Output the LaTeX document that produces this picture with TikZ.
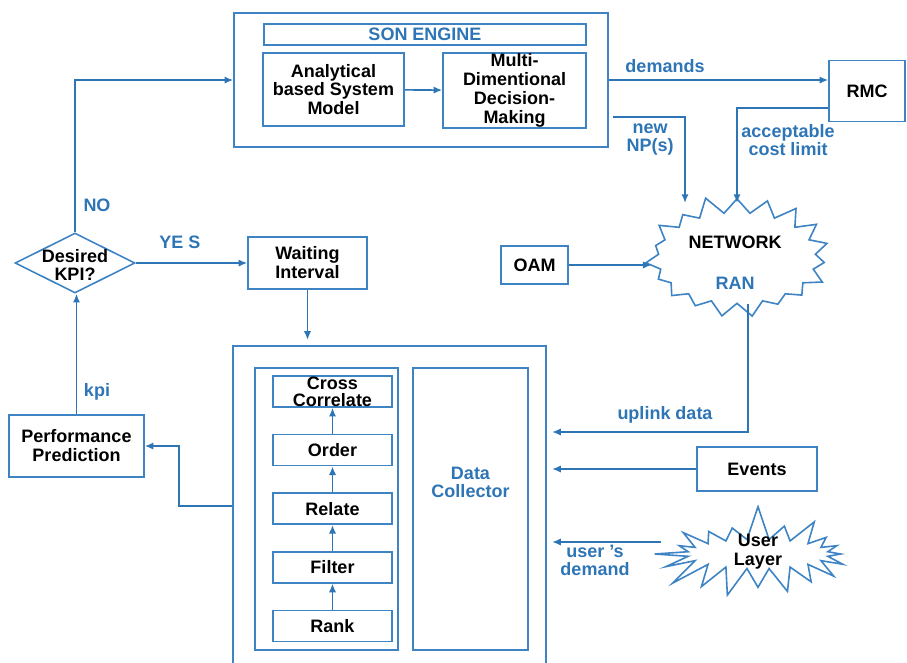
\documentclass[tikz,border=0pt]{standalone}
\usepackage{fontspec}
\setmainfont{Liberation Sans}
\usetikzlibrary{arrows.meta, positioning, shapes.geometric, shapes.symbols}
\definecolor{sonblue}{RGB}{46,117,182}
\definecolor{lineblue}{RGB}{62,132,196}

\begin{document}
\begin{tikzpicture}[x=0.75pt, y=-0.75pt,
		box/.style={draw=lineblue, line width=1.2pt, align=center, inner sep=0pt,
			font=\bfseries\fontsize{13.5}{14.2}\selectfont},
		stepbox/.style={box, minimum width=89.25pt, minimum height=23.25pt},
		lbl/.style={align=center, text=sonblue, inner sep=0pt,
			font=\bfseries\fontsize{13.5}{13.5}\selectfont},
		txt/.style={align=center, inner sep=0pt, font=\bfseries\fontsize{13.5}{14.2}\selectfont},
		star/.style={starburst, draw=lineblue, line width=1.2pt, inner sep=0pt},
		arrow/.style={-{Latex[length=6.5pt, width=5.5pt]}, line width=1.2pt, draw=sonblue},
		node distance=19.5pt
	]
		\useasboundingbox (0,0) rectangle (907,662);
		% SON engine
		\node[box, minimum width=280.5pt, minimum height=100.5pt] (son) at (421,80) {};
		\node[box, minimum width=241.5pt, minimum height=15.75pt, text=sonblue] (title) at (425,34.5) {SON ENGINE};
		\node[box, minimum width=105.75pt, minimum height=54.75pt] (ana) at (333.5,89.5) {Analytical\\based System\\Model};
		\node[box, minimum width=107.25pt, minimum height=56.25pt] (multi) at (514.5,90.5) {Multi-\\Dimentional\\Decision-\\Making};
		\draw[arrow] (ana) -- (multi);
		% right side
		\node[box, minimum width=57pt, minimum height=45.75pt] (rmc) at (867,91) {RMC};
		\node[star, minimum width=146pt, minimum height=96pt, starburst points=19,
			starburst point height=14pt, random starburst=11] (net) at (737,258) {};
		\node[txt] (nettxt) at (735,242) {NETWORK};
		\node[lbl] (rantxt) at (735,283) {RAN};
		\node[box, minimum width=50.25pt, minimum height=28.5pt] (oam) at (534.5,265) {OAM};
		\coordinate (npstart) at (613,117);
		\draw[arrow] (son.east) -- (son.east -| rmc.west);
		\draw[arrow] (npstart) -| ([xshift=-39pt, yshift=-4pt]net.north);
		\draw[arrow] ([yshift=-12.75pt]rmc.west) -| ([yshift=-4pt]net.north);
		\draw[arrow] (oam.east) -- (oam.east -| net.west);
		\node[lbl] (ldemands) at (665,66) {demands};
		\node[lbl] (lnewnp) at (650,140) {new\\NP(s)};
		\node[lbl] (lcost) at (788,140) {acceptable\\cost limit};
		% decision loop
		\node[diamond, draw=lineblue, line width=1.2pt, minimum width=90pt, minimum height=45pt,
			inner sep=0pt] (kpiq) at (75,263) {};
		\node[txt] (kpiqtxt) at (75,265) {Desired\\KPI?};
		\node[box, minimum width=89.25pt, minimum height=39pt] (wait) at (307.5,263) {Waiting\\Interval};
		\node[box, minimum width=101.25pt, minimum height=46.5pt] (perf) at (76.5,446) {Performance\\Prediction};
		\draw[arrow] (kpiq.north) |- (son.west);
		\draw[arrow] (kpiq.east) -- (wait.west);
		\draw[arrow] (perf.north) -- (perf.north |- kpiq.south);
		\node[lbl] (lno) at (97,205) {NO};
		\node[lbl] (lyes) at (180,242) {YE S};
		\node[lbl] (lkpi) at (97,392) {kpi};
		% data collection block
		\node[box, minimum width=234.75pt, minimum height=240pt] (big) at (389.5,506) {};
		\node[box, minimum width=107.25pt, minimum height=211.5pt] (chain) at (326.5,509) {};
		\node[box, minimum width=86.25pt, minimum height=211.5pt,
			label={[lbl, yshift=20pt]center:Data\\Collector}] (dc) at (470.5,509) {};
		\node[stepbox, label={[txt, font=\bfseries\fontsize{13.5}{13}\selectfont]center:Cross\\Correlate}] (cross) at (332.5,391.5) {};
		\node[stepbox, below=of cross] (order) {Order};
		\node[stepbox, below=of order] (relate) {Relate};
		\node[stepbox, below=of relate] (filter) {Filter};
		\node[stepbox, below=of filter] (rank) {Rank};
		\foreach \a/\b in {rank/filter,filter/relate,relate/order,order/cross}
			\draw[arrow] (\a) -- (\b);
		\draw[arrow, shorten >=4pt] (wait.south) -- (wait.south |- big.north);
		\draw[arrow] (big.west) -- ++(-53,0) |- (perf.east);
		% inputs
		\node[box, minimum width=90pt, minimum height=33pt] (events) at (757,469) {Events};
		\node[star, minimum width=160pt, minimum height=76pt, starburst points=20,
			starburst point height=27pt, random starburst=7] (user) at (758,554) {};
		\node[txt] (usertxt) at (758,552) {User\\Layer};
		\coordinate (bigin) at ([xshift=4pt]big.east);
		\coordinate (upin) at ([yshift=55.5pt]bigin);
		\coordinate (ustart) at ([xshift=-73pt, yshift=9pt]user.center);
		\draw[arrow] ([xshift=8.25pt]net.south) |- (upin);
		\draw[arrow] (events.west) -- (events.west -| bigin);
		\draw[arrow] (ustart) -- (ustart -| bigin);
		\node[lbl] (luplink) at (665,415) {uplink data};
		\node[lbl] (luser) at (595,560) {user 's\\demand};
	\end{tikzpicture}
\end{document}
